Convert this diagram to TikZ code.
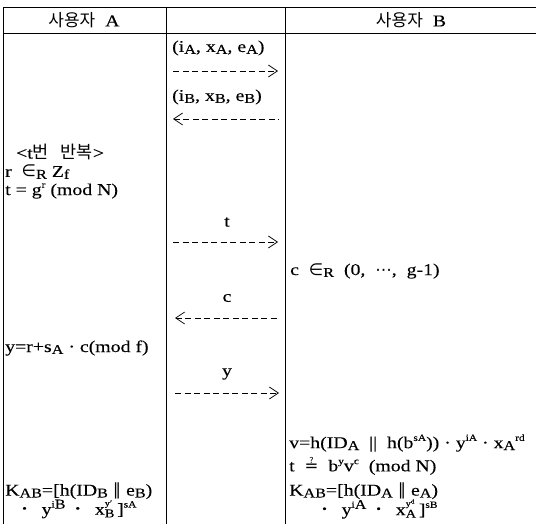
\documentclass[tikz,border=0pt]{standalone}
\usepackage{fontspec}
\setmainfont{Liberation Serif}[FakeStretch=1.2,FakeBold=0.2]
\newfontfamily\kor{Noto Sans CJK KR}
\newfontfamily\sym{DejaVu Sans}
\usetikzlibrary{arrows.meta}
\newcommand\lo[1]{\raisebox{-0.25ex}{\fontsize{13.5}{13.5}\selectfont #1}}
\newcommand\hi[1]{\raisebox{0.95ex}{\fontsize{9.5}{9.5}\selectfont #1}}
\newcommand\hilo[2]{\makebox[0pt][l]{\raisebox{1.15ex}{\fontsize{8.5}{8.5}\selectfont #1}}\raisebox{-0.35ex}{\fontsize{12}{12}\selectfont #2}}
\newcommand\dotop{\raisebox{0.35ex}{\fontsize{11}{11}\selectfont\textbullet}}
\begin{document}
\begin{tikzpicture}[x=1pt,y=-1pt,
  rule/.style={line width=0.8pt,black},
  txt/.style={anchor=west,inner sep=0pt,font=\fontsize{16.5}{19}\selectfont},
  lbl/.style={anchor=center,inner sep=0pt,font=\fontsize{16.5}{19}\selectfont},
  head/.style={anchor=center,inner sep=0pt,font=\fontsize{16.5}{19}\selectfont},
  msg/.style={line width=0.7pt,dash pattern=on 6pt off 3.5pt,-{Straight Barb[length=9pt,width=12pt,line width=0.7pt]}},
  msgl/.style={line width=0.7pt,dash pattern=on 6pt off 3.5pt,{Straight Barb[length=9pt,width=12pt,line width=0.7pt]}-}]
\useasboundingbox (0,0) rectangle (536,524);
% table rules
\coordinate (tl) at (3,7);
\coordinate (tr) at (536,7);
\coordinate (hl) at (3,33);
\coordinate (hr) at (536,33);
\coordinate (c1t) at (166,7);
\coordinate (c1b) at (166,524);
\coordinate (c2t) at (285,7);
\coordinate (c2b) at (285,524);
\coordinate (bl) at (3,524);
\draw[rule] (tl) -- (tr);
\draw[rule] (hl) -- (hr);
\draw[rule] (tl) -- (bl);
\draw[rule] (c1t) -- (c1b);
\draw[rule] (c2t) -- (c2b);
% headers
\node[head] (hA) at (84,20) {{\kor\fontsize{17}{19}\selectfont 사용자}\ \ A};
\node[head] (hB) at (411,20) {{\kor\fontsize{17}{19}\selectfont 사용자}\ \ B};
% messages column
\node[txt] (m1) at (172,48) {(i\lo{A},\ x\lo{A},\ e\lo{A})};
\coordinate (a1s) at (173,71);
\coordinate (a1e) at (278,71);
\draw[msg] (a1s) -- (a1e);
\node[txt] (m2) at (172,97) {(i\lo{B},\ x\lo{B},\ e\lo{B})};
\coordinate (a2s) at (173,119);
\coordinate (a2e) at (279,119);
\draw[msgl] (a2s) -- (a2e);
\node[lbl] (lt) at (227,222) {t};
\coordinate (a3s) at (173,242);
\coordinate (a3e) at (278,242);
\draw[msg] (a3s) -- (a3e);
\node[lbl] (lc) at (227,298) {c};
\coordinate (a4s) at (175,318);
\coordinate (a4e) at (280,318);
\draw[msgl] (a4s) -- (a4e);
\node[lbl] (ly) at (227,374) {y};
\coordinate (a5s) at (175,393);
\coordinate (a5e) at (279,393);
\draw[msg] (a5s) -- (a5e);
% user A column
\node[txt] (rep) at (16,152) {<t{\kor\fontsize{17.5}{19}\selectfont 번\ \ \ 반복}>};
\node[txt] (ra) at (5,172) {r\ \ {\sym ∈}\lo{R}\ Z\lo{f}};
\node[txt] (ta) at (5,191) {t = g\hi{r}\ (mod\ N)};
\node[txt] (ya) at (5,348) {y=r+s\lo{A}\ ·\ c(mod\ f)};
\node[txt] (ka1) at (5,491) {K\lo{AB}=[h(ID\lo{B}\ {\sym ∥}\ e\lo{B})};
\node[txt] (ka2) at (22,509) {\dotop\ \ \ y\hi{i\lo{B}}\ \ \dotop\ \ \ x\hilo{y′}{B}\,]\hi{sA}};
% user B column
\node[txt] (cb) at (290,271) {c\ \ {\sym ∈}\lo{R}\ \ (0,\ \ {\sym ⋯},\ \ g-1)};
\node[txt] (vb) at (289,443) {v=h(ID\lo{A}\ \ ||\ \ h(b\hi{sA}))\ ·\ y\hi{iA}\ ·\ x\lo{A}\hi{rd}};
\node[txt] (tb) at (289,466) {t\ \ {\sym ≟}\ \ b\hi{y}v\hi{c}\ \ (mod\ N)};
\node[txt] (kb1) at (289,491) {K\lo{AB}=[h(ID\lo{A}\ {\sym ∥}\ e\lo{A})};
\node[txt] (kb2) at (322,509) {\dotop\ \ \ y\hi{i\lo{A}}\ \ \dotop\ \ \ x\hilo{y\textsuperscript{d}}{A}\,]\hi{sB}};
\end{tikzpicture}
\end{document}
